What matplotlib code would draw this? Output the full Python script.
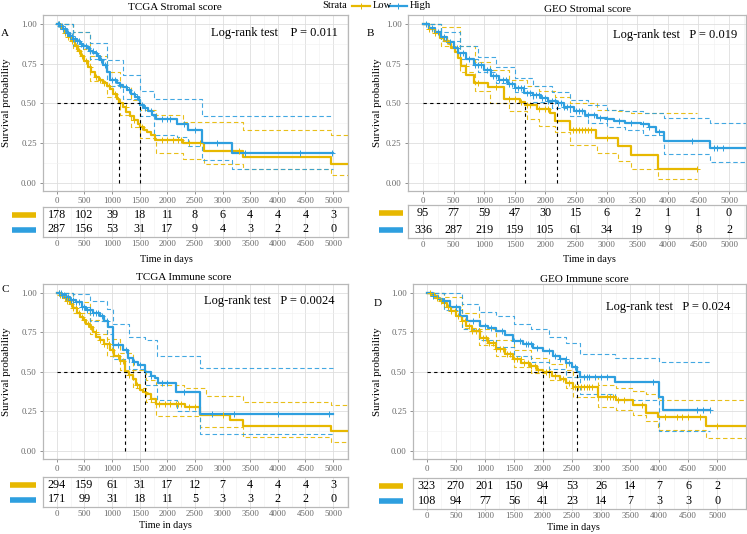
import numpy as np
import matplotlib
matplotlib.use('Agg')
import matplotlib.pyplot as plt
from matplotlib.lines import Line2D
from matplotlib.ticker import MultipleLocator

plt.rcParams['font.family'] = ['Liberation Serif', 'DejaVu Serif']

W, H = 747, 534
YELLOW = '#E7B800'
BLUE = '#2E9FDF'
risk_times = np.arange(0, 5001, 500)

# ---------------- A: TCGA Stromal score ----------------
a_low_t = [0, 50, 100, 150, 200, 260, 320, 380, 440, 500, 560, 620, 690, 760, 830, 900, 960, 1020, 1080, 1130,
           1190, 1260, 1330, 1400, 1470, 1505, 1570, 1640, 1710, 1780, 2290, 2670, 3370, 4970]
a_low_s = [1, .985, .965, .94, .915, .89, .86, .83, .795, .765, .73, .70, .665, .645, .625, .61, .59, .56, .53, .50,
           .475, .445, .42, .395, .37, .35, .335, .32, .30, .27, .25, .20, .165, .12]
a_low_end = 5300
a_low_ci_t = [0, 300, 600, 900, 1136, 1350, 1500, 1800, 2290, 2670, 3370, 4970]
a_low_hi = [1, .95, .80, .70, .60, .52, .46, .43, .385, .385, .33, .30]
a_low_lo = [1, .84, .64, .54, .43, .35, .28, .19, .15, .12, .085, .05]
a_low_cens = [30, 80, 110, 150, 200, 230, 280, 340, 400, 450, 520, 600, 700, 780, 850, 950, 1050, 1150, 1250,
              1400, 1550, 1900, 2000, 2100, 2200, 2250, 2400, 2600, 3300]
a_low_risk = [178, 102, 39, 18, 11, 8, 6, 4, 4, 4, 3]

a_high_t = [0, 60, 120, 180, 240, 300, 360, 420, 480, 540, 600, 660, 720, 780, 840, 900, 960, 1080, 1140, 1200,
            1270, 1350, 1420, 1490, 1510, 1580, 1650, 1730, 1800, 2170, 2370, 2620, 3170]
a_high_s = [1, .985, .965, .945, .925, .905, .89, .875, .86, .845, .83, .815, .80, .775, .74, .70, .65, .63, .615,
            .60, .585, .56, .54, .52, .49, .47, .455, .43, .40, .37, .335, .25, .19]
a_high_end = 5000
a_high_ci_t = [0, 300, 600, 900, 1200, 1500, 1750, 2170, 2370, 2620, 3170]
a_high_hi = [1, .95, .88, .77, .68, .58, .53, .53, .53, .42, .42]
a_high_lo = [1, .86, .78, .61, .53, .42, .30, .29, .23, .145, .09]
a_high_cens = [20, 40, 60, 90, 120, 150, 180, 210, 240, 270, 300, 330, 360, 400, 440, 480, 520, 560, 600, 650,
               700, 750, 800, 870, 1000, 1050, 1150, 1250, 1300, 1400, 1450, 1550, 1600, 1700, 1900, 2000, 2050,
               2300, 2500, 2900, 3400, 4400, 4980]
a_high_risk = [287, 156, 53, 31, 17, 9, 4, 3, 2, 2, 0]

# ---------------- B: GEO Stromal score ----------------
b_low_t = [0, 100, 200, 272, 350, 420, 461, 520, 570, 624, 706, 842, 1060, 1320, 1592, 1670, 1862, 2080, 2160,
           2400, 2831, 3190, 3404, 3844]
b_low_s = [1, .97, .94, .91, .89, .87, .85, .82, .785, .733, .68, .63, .60, .525, .51, .49, .4625, .4375, .39,
           .33, .285, .233, .177, .09]
b_low_end = 4480
b_low_ci_t = [0, 300, 600, 850, 1100, 1400, 1700, 1900, 2160, 2400, 2850, 3190, 3404, 3844]
b_low_hi = [1, .98, .86, .76, .71, .65, .61, .58, .54, .50, .46, .45, .44, .4375]
b_low_lo = [1, .86, .70, .58, .50, .45, .40, .36, .32, .24, .19, .14, .09, .025]
b_low_cens = [100, 150, 200, 400, 700, 900, 1200, 1400, 1500, 1600, 1700, 1750, 1900, 2000, 2050, 2450, 2500,
              2550, 2600, 2650, 2700, 2750, 3000, 4480]
b_low_risk = [95, 77, 59, 47, 30, 15, 6, 2, 1, 1, 0]

b_high_t = [0, 100, 200, 298, 400, 500, 570, 700, 842, 1000, 1113, 1250, 1385, 1500, 1656, 1800, 1927, 2050,
            2183, 2300, 2471, 2650, 2851, 3000, 3122, 3300, 3556, 3700, 3800, 3940, 4697]
b_high_s = [1, .975, .95, .92, .885, .845, .817, .78, .744, .71, .67, .645, .619, .595, .566, .55, .535, .518,
            .50, .475, .452, .43, .41, .40, .39, .38, .369, .35, .32, .265, .223]
b_high_end = 5300
b_high_ci_t = [0, 300, 600, 900, 1200, 1500, 1800, 2100, 2400, 2700, 3000, 3300, 3600, 3940, 4697]
b_high_hi = [1, .95, .86, .79, .73, .66, .61, .57, .52, .49, .46, .45, .44, .41, .38]
b_high_lo = [1, .89, .78, .70, .63, .57, .51, .47, .42, .38, .35, .33, .30, .18, .13]
b_high_cens = [50, 150, 250, 350, 450, 550, 650, 750, 850, 900, 950, 1050, 1100, 1150, 1200, 1250, 1300, 1350,
               1400, 1450, 1500, 1550, 1600, 1650, 1700, 1750, 1800, 1850, 1900, 1950, 2000, 2050, 2100, 2150,
               2200, 2250, 2300, 2350, 2400, 2500, 2550, 2600, 2700, 2800, 2900, 3000, 3200, 3400, 3600, 3700,
               3850, 4400, 4750, 4800, 4900]
b_high_risk = [336, 287, 219, 159, 105, 61, 34, 19, 9, 8, 2]

# ---------------- C: TCGA Immune score ----------------
c_low_t = [0, 60, 120, 180, 230, 300, 360, 410, 470, 530, 592, 650, 713, 780, 850, 955, 1040, 1136, 1232, 1300,
           1377, 1440, 1498, 1560, 1619, 1700, 1800, 2314, 2591, 3134, 3370, 4965]
c_low_s = [1, .985, .965, .945, .93, .905, .875, .848, .825, .80, .785, .755, .722, .70, .675, .64, .60, .567,
           .50, .48, .452, .42, .385, .37, .358, .33, .30, .28, .23, .196, .16, .125]
c_low_end = 5300
c_low_ci_t = [0, 300, 600, 900, 1136, 1377, 1620, 1800, 2300, 2591, 2700, 3370, 4965]
c_low_hi = [1, .94, .83, .71, .62, .51, .45, .42, .40, .40, .35, .31, .29]
c_low_lo = [1, .87, .74, .60, .51, .40, .31, .223, .223, .15, .15, .088, .056]
c_low_cens = [30, 60, 100, 140, 180, 220, 260, 300, 350, 400, 450, 500, 560, 620, 700, 780, 860, 940, 1000,
              1100, 1200, 1300, 1450, 1600, 1700, 1850, 1950, 2050, 2150, 2200, 2250, 2400, 2500, 3000]
c_low_risk = [294, 159, 61, 31, 17, 12, 7, 4, 4, 4, 3]

c_high_t = [0, 80, 160, 240, 350, 450, 531, 650, 772, 850, 924, 1015, 1196, 1287, 1380, 1468, 1589, 1700, 1770,
            1830, 2162, 2585]
c_high_s = [1, .985, .97, .955, .94, .91, .89, .87, .855, .82, .785, .67, .64, .59, .565, .546, .497, .475, .46,
            .43, .375, .235]
c_high_end = 4990
c_high_ci_t = [0, 300, 600, 900, 1015, 1300, 1600, 1812, 2174, 2591]
c_high_hi = [1, .99, .95, .90, .80, .72, .70, .60, .60, .525]
c_high_lo = [1, .91, .82, .74, .58, .52, .42, .32, .25, .11]
c_high_cens = [40, 70, 100, 130, 170, 200, 250, 300, 350, 400, 450, 500, 550, 600, 650, 700, 750, 820, 900, 1100,
               1250, 1400, 1500, 1700, 1900, 2000, 2300, 2800, 3200, 4000, 4930]
c_high_risk = [171, 99, 31, 18, 11, 5, 3, 3, 2, 2, 0]

# ---------------- D: GEO Immune score ----------------
d_low_t = [0, 80, 150, 220, 281, 350, 420, 510, 600, 682, 780, 912, 1050, 1198, 1340, 1485, 1630, 1773, 1900,
           1996, 2150, 2289, 2400, 2518, 2948, 3263, 3550, 3779, 3981, 4812]
d_low_s = [1, .985, .965, .95, .937, .91, .885, .853, .82, .79, .76, .717, .68, .644, .61, .581, .555, .535, .515,
           .50, .475, .455, .43, .403, .34, .325, .288, .24, .215, .161]
d_low_end = 5600
d_low_ci_t = [0, 300, 600, 900, 1200, 1500, 1800, 2100, 2400, 2518, 2948, 3263, 3550, 3779, 3981, 4812]
d_low_hi = [1, .97, .87, .77, .70, .64, .59, .55, .51, .47, .42, .40, .38, .36, .325, .325]
d_low_lo = [1, .91, .78, .67, .60, .53, .49, .45, .40, .34, .28, .26, .23, .19, .13, .08]
d_low_cens = [60, 120, 180, 240, 300, 360, 420, 480, 540, 600, 660, 720, 780, 840, 900, 960, 1020, 1080, 1140,
              1200, 1260, 1320, 1380, 1440, 1500, 1560, 1620, 1680, 1740, 1800, 1860, 1920, 2050, 2100, 2200,
              2350, 2450, 2550, 2600, 2650, 2700, 2750, 2800, 2850, 3100, 3150, 3200, 3300, 3400, 3700, 4100,
              4300, 4400, 4500, 4700, 5000]
d_low_risk = [323, 270, 201, 150, 94, 53, 26, 14, 7, 6, 2]

d_high_t = [0, 100, 200, 281, 400, 568, 700, 912, 1050, 1198, 1350, 1485, 1650, 1829, 2001, 2174, 2300, 2403,
            2500, 2587, 2633, 3235, 3998, 4067]
d_high_s = [1, .98, .96, .95, .91, .853, .82, .79, .775, .758, .73, .695, .675, .654, .633, .60, .58, .557, .53,
            .50, .465, .434, .34, .26]
d_high_end = 4870
d_high_ci_t = [0, 300, 600, 900, 1200, 1500, 1800, 2100, 2400, 2633, 3235, 4000]
d_high_hi = [1, 1.0, .93, .88, .85, .80, .77, .72, .68, .61, .585, .56]
d_high_lo = [1, .89, .77, .70, .66, .60, .56, .52, .47, .36, .32, .125]
d_high_cens = [100, 300, 500, 800, 1000, 1100, 1300, 1500, 1600, 1700, 1750, 1800, 1900, 2100, 2200, 2300, 2400,
               2450, 2550, 2700, 2750, 2800, 2900, 3000, 3100, 3900, 4650, 4750, 4870]
d_high_risk = [108, 94, 77, 56, 41, 23, 14, 7, 3, 3, 0]


def rect(l, t, r, b):
    return [l / W, 1 - b / H, (r - l) / W, (b - t) / H]


def ftext(x, y, s, **kw):
    fig.text(x / W, 1 - y / H, s, **kw)


def step_at(t, s, x):
    idx = np.searchsorted(t, x, side='right') - 1
    return np.asarray(s)[idx]


def draw_curve(ax, t, s, end, ci_t, hi, lo, cens, color):
    ax.step(list(t) + [end], list(s) + [s[-1]], where='post', color=color, lw=1.6, zorder=3)
    for band in (hi, lo):
        ax.step(list(ci_t) + [end], list(band) + [band[-1]], where='post', color=color,
                lw=0.8, ls=(0, (4, 2.5)), alpha=0.9, zorder=2)
    cens = np.array(cens)
    ax.plot(cens, step_at(t, s, cens), ls='none', marker='+', ms=4, mew=0.7, color=color, zorder=4)


def median(t, s):
    s = np.asarray(s)
    return t[int(np.argmax(s <= 0.5))]


def style(ax, xlim):
    ax.set_xlim(xlim)
    ax.set_xticks(risk_times)
    ax.xaxis.set_minor_locator(MultipleLocator(250))
    ax.grid(which='major', color='#DEDEDE', lw=0.6)
    ax.grid(which='minor', color='#F0F0F0', lw=0.4)
    ax.tick_params(which='minor', length=0)
    ax.tick_params(which='major', labelsize=6.3, colors='#666666', length=2.5, width=0.5, pad=2)
    for sp in ax.spines.values():
        sp.set_color('#B8B8B8')
        sp.set_linewidth(0.9)
    ax.set_axisbelow(True)


panels = [
    dict(plot=(43, 15, 348, 191), table=(43, 207, 348, 237), xlim=(-251, 5270),
         title=('TCGA Stromal score', 175, 8), lr=('Log-rank test    P = 0.011', 338, 33),
         letter=('A', 5, 33), ylab=7, bars=(12, 36), tlab=(166, 259),
         low=(a_low_t, a_low_s, a_low_end, a_low_ci_t, a_low_hi, a_low_lo, a_low_cens, a_low_risk),
         high=(a_high_t, a_high_s, a_high_end, a_high_ci_t, a_high_hi, a_high_lo, a_high_cens, a_high_risk)),
    dict(plot=(408, 15, 746, 191), table=(408, 205, 746, 238), xlim=(-244, 5277),
         title=('GEO Stromal score', 588, 10), lr=('Log-rank test   P = 0.019', 737, 35),
         letter=('B', 370, 33), ylab=378, bars=(379, 403), tlab=(589, 259),
         low=(b_low_t, b_low_s, b_low_end, b_low_ci_t, b_low_hi, b_low_lo, b_low_cens, b_low_risk),
         high=(b_high_t, b_high_s, b_high_end, b_high_ci_t, b_high_hi, b_high_lo, b_high_cens, b_high_risk)),
    dict(plot=(43, 284, 348, 459), table=(43, 477, 348, 507), xlim=(-251, 5270),
         title=('TCGA Immune score', 184, 278), lr=('Log-rank test   P = 0.0024', 335, 301),
         letter=('C', 5, 290), ylab=7, bars=(10, 36), tlab=(165, 526),
         low=(c_low_t, c_low_s, c_low_end, c_low_ci_t, c_low_hi, c_low_lo, c_low_cens, c_low_risk),
         high=(c_high_t, c_high_s, c_high_end, c_high_ci_t, c_high_hi, c_high_lo, c_high_cens, c_high_risk)),
    dict(plot=(413, 284, 746, 459), table=(413, 478, 746, 509), xlim=(-236, 5494),
         title=('GEO Immune score', 584, 279), lr=('Log-rank test   P = 0.024', 730, 307),
         letter=('D', 378, 303), ylab=378, bars=(379, 403), tlab=(573, 528),
         low=(d_low_t, d_low_s, d_low_end, d_low_ci_t, d_low_hi, d_low_lo, d_low_cens, d_low_risk),
         high=(d_high_t, d_high_s, d_high_end, d_high_ci_t, d_high_hi, d_high_lo, d_high_cens, d_high_risk)),
]

fig = plt.figure(figsize=(W / 100, H / 100), dpi=100)

for p in panels:
    ax = fig.add_axes(rect(*p['plot']))
    style(ax, p['xlim'])
    ax.set_ylim(-0.05, 1.055)
    ax.set_yticks([0, .25, .5, .75, 1])
    ax.set_yticklabels(['0.00', '0.25', '0.50', '0.75', '1.00'])
    ax.yaxis.set_minor_locator(MultipleLocator(0.125))

    for grp, col in ((p['low'], YELLOW), (p['high'], BLUE)):
        draw_curve(ax, *grp[:7], col)

    m_low = median(p['low'][0], p['low'][1])
    m_high = median(p['high'][0], p['high'][1])
    ax.plot([0, max(m_low, m_high)], [0.5, 0.5], color='black', lw=0.8, ls=(0, (3, 3)), zorder=5)
    for m in (m_low, m_high):
        ax.plot([m, m], [0, 0.5], color='black', lw=0.8, ls=(0, (3, 3)), zorder=5)

    l, t, r, b = p['plot']
    ftext(p['ylab'], (t + b) / 2, 'Survival probability', rotation=90, ha='center', va='center', fontsize=7.8)
    ftext(p['title'][1], p['title'][2], p['title'][0], ha='center', va='center', fontsize=8)
    ftext(p['lr'][1], p['lr'][2], p['lr'][0], ha='right', va='center', fontsize=9)
    ftext(p['letter'][1], p['letter'][2], p['letter'][0], ha='center', va='center', fontsize=8)

    # risk table
    tx = fig.add_axes(rect(*p['table']))
    style(tx, p['xlim'])
    tx.tick_params(axis='x', length=1, pad=1.2)
    tx.set_ylim(0.5, 2.5)
    tx.set_yticks([])
    for i, x in enumerate(risk_times):
        tx.text(x, 2, str(p['low'][7][i]), ha='center', va='center', fontsize=8.7)
        tx.text(x, 1, str(p['high'][7][i]), ha='center', va='center', fontsize=8.7)
    tl, tt, tr, tb = p['table']
    row_h = (tb - tt) / 4
    for yrow, col in ((tt + row_h, YELLOW), (tb - row_h, BLUE)):
        fig.add_artist(Line2D([p['bars'][0] / W, p['bars'][1] / W], [1 - yrow / H, 1 - yrow / H],
                              color=col, lw=4, solid_capstyle='butt'))
    ftext(p['tlab'][0], p['tlab'][1], 'Time in days', ha='center', va='center', fontsize=7.3)

# legend at top
ftext(322, 6, 'Strata', ha='left', va='center', fontsize=7.6)
for x0, x1, col in ((352, 370, YELLOW), (389, 407, BLUE)):
    fig.add_artist(Line2D([x0 / W, x1 / W], [1 - 6 / H, 1 - 6 / H], color=col, lw=1.6))
    fig.add_artist(Line2D([(x0 + x1) / 2 / W], [1 - 6 / H], color=col, marker='+', ms=4, mew=0.7))
ftext(373, 6, 'Low', ha='left', va='center', fontsize=7.6)
ftext(410, 6, 'High', ha='left', va='center', fontsize=7.6)

fig.savefig('out.png', dpi=100)
